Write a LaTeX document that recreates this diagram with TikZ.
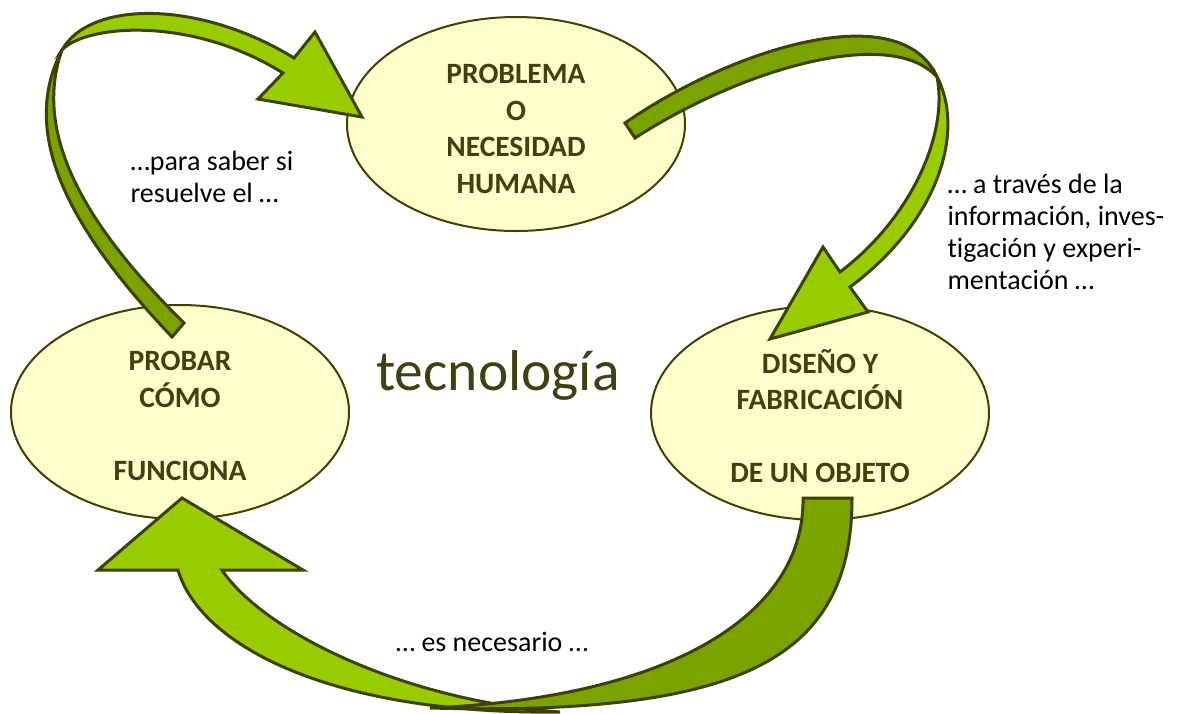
\documentclass[tikz,border=0pt]{standalone}
\usepackage{fontspec}
\setmainfont{Carlito}[Ligatures=CommonOff]
\usetikzlibrary{shapes.geometric}
\definecolor{leafgreen}{RGB}{153,204,0}
\definecolor{mossgreen}{RGB}{122,163,0}
\definecolor{barkline}{RGB}{64,64,0}
\definecolor{cream}{RGB}{255,255,204}
\definecolor{olivetext}{RGB}{64,64,16}

\begin{document}
\begin{tikzpicture}[x=1pt,y=-1pt,
	bubble/.style={ellipse,draw=barkline,line width=2pt,fill=cream,minimum width=338pt,minimum height=214pt,inner sep=0pt},
	caps/.style={align=center,text=olivetext,font=\bfseries\fontsize{29.5}{36.5}\selectfont},
	note/.style={align=left,font=\fontsize{28}{32}\selectfont},
	front/.style={fill=leafgreen,draw=barkline,line width=3pt},
	back/.style={fill=mossgreen,draw=barkline,line width=3pt}]
	\useasboundingbox (0,0) rectangle (1182,713);
	
	\node[bubble] (problem) at (516,124) {};
	\node[bubble] (testing) at (180,412) {};
	\node[bubble] (making) at (820,413) {};
	
	\node[caps] (problemtxt) at (516,129) {PROBLEMA\\O\\NECESIDAD\\HUMANA};
	\node[caps] (testingtxt) at (180,416) {PROBAR\\CÓMO\\ \mbox{}\\ FUNCIONA};
	\node[caps] (makingtxt) at (820,416) {DISEÑO Y\\FABRICACIÓN\\ \mbox{}\\ DE UN OBJETO};
	
	\node[text=olivetext,font=\fontsize{57.5}{60}\selectfont,anchor=base] (topic) at (498,390) {tecnología};
	
	\node[note,anchor=base west] (checknote) at (127,202) {…para saber si\\resuelve el …};
	\node[note,anchor=base west] (researchnote) at (944,289) {… a través de la\\información, inves-\\tigación y experi-\\mentación …};
	\node[note,anchor=base] (neednote) at (492,651) {… es necesario …};
	
	%probar -> problema
	\draw[back] (184,323) .. controls (95,235) and (30,140) .. (62,50) .. controls (15,140) and (80,240) .. (172,337) -- cycle;
	\draw[front] (62,50) .. controls (90,0) and (200,0) .. (294,58) -- (315,32) -- (362,117) -- (258,99) -- (283,73) .. controls (190,15) and (85,25) .. (62,50) -- cycle;
	
	%problema -> diseno
	\draw[back] (625,123) .. controls (730,50) and (900,-5) .. (937,77) .. controls (890,25) and (740,70) .. (635,138) -- cycle;
	\draw[front] (937,77) .. controls (965,130) and (940,220) .. (850,287) -- (868,312) -- (770,339) -- (823,247) -- (840,272) .. controls (915,215) and (948,130) .. (937,77) -- cycle;
	
	%diseno -> probar
	\draw[front] (560,712) .. controls (330,715) and (200,645) .. (178,570) -- (98,570) -- (182,498) -- (303,570) -- (222,570) .. controls (262,630) and (400,700) .. (560,712) -- cycle;
	\draw[back] (803,498) -- (852,498) .. controls (852,660) and (740,716) .. (430,708) .. controls (680,697) and (805,610) .. (803,498) -- cycle;
\end{tikzpicture}
\end{document}
